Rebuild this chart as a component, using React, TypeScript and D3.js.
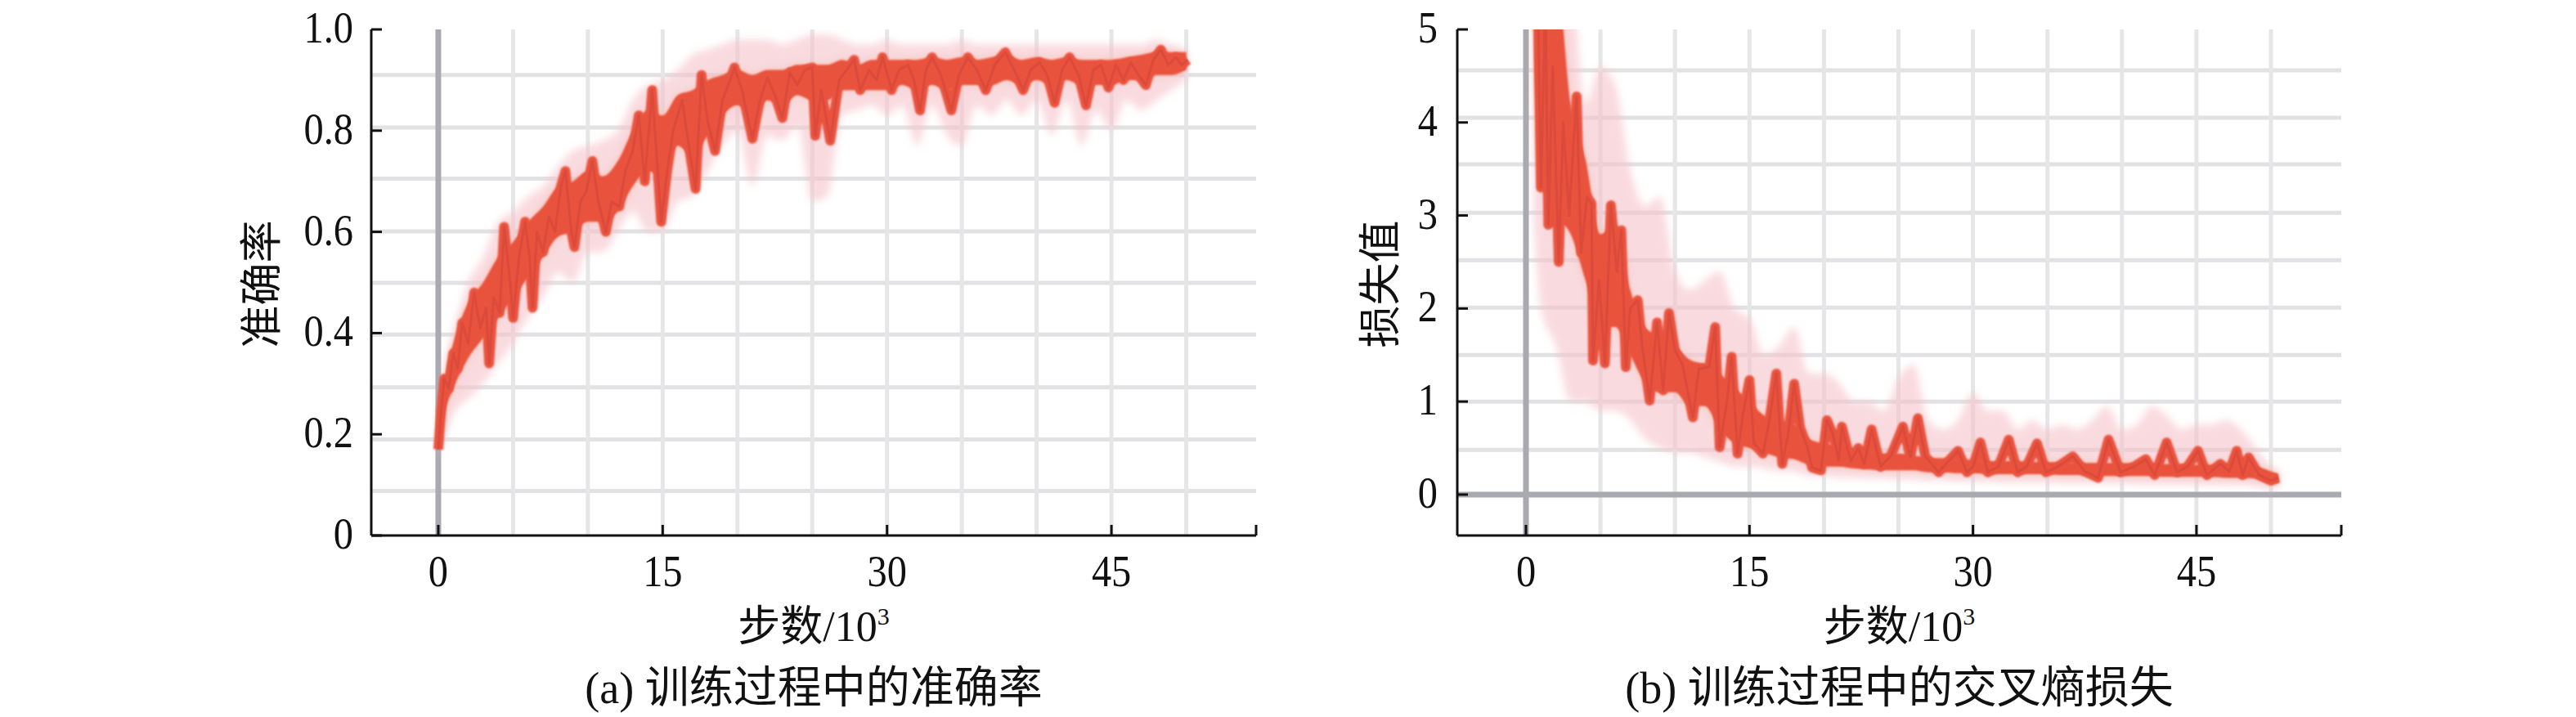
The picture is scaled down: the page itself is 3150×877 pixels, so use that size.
import React from "react";
import * as d3 from "d3";

// ---------- tick / grid data ----------
const stepTicks = [0, 15, 30, 45];
const stepTickLabels = ["0", "15", "30", "45"];
const stepGrid = [5, 10, 15, 20, 25, 30, 35, 40, 45, 50];

const accTicks = [0, 0.2, 0.4, 0.6, 0.8, 1.0];
const accTickLabels = ["0", "0.2", "0.4", "0.6", "0.8", "1.0"];
const accGrid = [0.088, 0.19, 0.293, 0.397, 0.499, 0.601, 0.705, 0.806, 0.91];

const lossTicks = [0, 1, 2, 3, 4, 5];
const lossTickLabels = ["0", "1", "2", "3", "4", "5"];
const lossGrid = [0.48, 1.0, 1.5, 2.01, 2.52, 3.03, 3.55, 4.05, 4.56];

// ---------- accuracy series (steps in 10^3) ----------
const accSteps = [
  0.0, 0.2, 0.4, 0.7, 1.0, 1.3, 1.6, 2.0, 2.4, 2.8, 3.2, 3.4, 3.7, 4.1, 4.4, 4.8, 5.0, 5.4, 5.8, 6.1,
  6.3, 6.6, 7.0, 7.4, 7.8, 8.2, 8.5, 8.9, 9.1, 9.5, 9.9, 10.3, 10.7, 11.2, 11.6, 12.1, 12.5, 13.0, 13.4, 13.8,
  14.3, 14.6, 14.9, 15.3, 15.7, 16.3, 16.8, 17.2, 17.6, 18.0, 18.5, 19.0, 19.5, 19.8, 20.3, 21.0, 21.5, 22.0, 22.5, 23.0,
  23.5, 24.0, 24.5, 25.0, 25.2, 25.6, 26.2, 26.8, 27.3, 27.8, 28.2, 28.8, 29.3, 29.7, 30.3, 30.8, 31.4, 31.8, 32.2, 32.6,
  33.0, 33.6, 34.3, 34.8, 35.4, 36.0, 36.6, 37.2, 37.9, 38.5, 39.1, 39.6, 40.2, 40.7, 41.2, 41.7, 42.2, 42.8, 43.3, 43.8,
  44.3, 44.8, 45.3, 45.8, 46.3, 46.8, 47.3, 47.8, 48.3, 48.8, 49.3, 49.7, 50.1,
];
const accValues = [
  0.17, 0.25, 0.31, 0.29, 0.36, 0.33, 0.42, 0.38, 0.48, 0.41, 0.45, 0.34, 0.47, 0.44, 0.61, 0.5, 0.43, 0.55, 0.62, 0.55,
  0.45, 0.6, 0.56, 0.63, 0.6, 0.69, 0.72, 0.6, 0.57, 0.66, 0.68, 0.74, 0.66, 0.6, 0.66, 0.65, 0.72, 0.76, 0.83, 0.7,
  0.88, 0.75, 0.62, 0.72, 0.8, 0.86, 0.76, 0.685, 0.91, 0.82, 0.76, 0.86, 0.9, 0.925, 0.88, 0.784, 0.86, 0.905, 0.87, 0.825,
  0.915, 0.89, 0.92, 0.925, 0.79, 0.88, 0.78, 0.9, 0.92, 0.94, 0.88, 0.92, 0.9, 0.945, 0.88, 0.92, 0.93, 0.9, 0.84, 0.92,
  0.945, 0.91, 0.84, 0.91, 0.945, 0.92, 0.88, 0.93, 0.955, 0.92, 0.88, 0.92, 0.935, 0.91, 0.855, 0.92, 0.945, 0.91, 0.85, 0.92,
  0.93, 0.885, 0.93, 0.9, 0.935, 0.91, 0.89, 0.94, 0.96, 0.93, 0.945, 0.93, 0.94,
];
// dense red band (core spread of the curve)
const accCoreSteps = [
  0, 0.5, 1, 2, 3, 4, 5, 6, 7, 8, 9, 10, 11, 12, 13, 14, 15, 16, 17, 18, 19, 20, 21, 22, 23, 24, 25,
  26, 27, 28, 29, 30, 31, 32, 33, 34, 35, 36, 37, 38, 39, 40, 41, 42, 43, 44, 45, 46, 47, 48, 49, 50,
];
const accCoreLow = [
  0.17, 0.25, 0.29, 0.35, 0.39, 0.43, 0.47, 0.51, 0.55, 0.59, 0.6, 0.62, 0.62, 0.64, 0.69, 0.72, 0.71, 0.77, 0.75, 0.79,
  0.83, 0.85, 0.83, 0.86, 0.85, 0.87, 0.86, 0.86, 0.88, 0.88, 0.88, 0.88, 0.89, 0.88, 0.89, 0.88, 0.89, 0.89, 0.89, 0.9,
  0.89, 0.9, 0.89, 0.9, 0.89, 0.89, 0.89, 0.9, 0.9, 0.91, 0.91, 0.92,
];
const accCoreHigh = [
  0.2, 0.32, 0.38, 0.46, 0.5, 0.55, 0.58, 0.62, 0.65, 0.69, 0.7, 0.72, 0.71, 0.74, 0.8, 0.84, 0.83, 0.87, 0.88, 0.9,
  0.91, 0.92, 0.91, 0.92, 0.92, 0.93, 0.93, 0.93, 0.94, 0.93, 0.94, 0.94, 0.94, 0.94, 0.945, 0.94, 0.945, 0.94, 0.945, 0.95,
  0.94, 0.945, 0.94, 0.945, 0.94, 0.94, 0.94, 0.945, 0.95, 0.955, 0.955, 0.955,
];
const accRawSteps = [
  0, 0.5, 1, 2, 3, 4, 5, 6, 7, 8, 9, 10, 11, 12, 13, 14, 15, 16, 17, 18, 19, 20, 21, 22, 23, 24, 25,
  26, 27, 28, 29, 30, 31, 32, 33, 34, 35, 36, 37, 38, 39, 40, 41, 42, 43, 44, 45, 46, 47, 48, 49, 50,
];
const accRawLow = [
  0.15, 0.2, 0.24, 0.27, 0.3, 0.34, 0.38, 0.43, 0.47, 0.52, 0.5, 0.56, 0.56, 0.6, 0.64, 0.6, 0.6, 0.66, 0.67, 0.72,
  0.77, 0.8, 0.69, 0.79, 0.78, 0.81, 0.66, 0.67, 0.83, 0.84, 0.85, 0.83, 0.85, 0.77, 0.85, 0.79, 0.77, 0.85, 0.83, 0.86,
  0.83, 0.86, 0.79, 0.86, 0.77, 0.84, 0.8, 0.86, 0.84, 0.86, 0.88, 0.9,
];
const accRawHigh = [
  0.2, 0.34, 0.4, 0.5, 0.55, 0.62, 0.64, 0.67, 0.69, 0.73, 0.76, 0.77, 0.78, 0.8, 0.86, 0.89, 0.9, 0.92, 0.95, 0.96,
  0.97, 0.98, 0.98, 0.98, 0.97, 0.98, 0.99, 0.99, 0.98, 0.97, 0.97, 0.98, 0.97, 0.97, 0.97, 0.97, 0.98, 0.97, 0.97, 0.97,
  0.97, 0.97, 0.97, 0.97, 0.97, 0.97, 0.97, 0.97, 0.97, 0.98, 0.97, 0.96,
];

// ---------- loss series ----------
const lossSteps = [
  0.6, 0.8, 1.0, 1.3, 1.5, 1.8, 2.2, 2.5, 2.9, 3.2, 3.4, 3.7, 4.1, 4.4, 4.5, 4.9, 5.3, 5.7, 6.1, 6.4,
  6.7, 7.0, 7.5, 7.8, 8.3, 8.8, 9.2, 9.6, 10.0, 10.5, 11.2, 11.6, 12.3, 12.7, 13.0, 13.5, 13.8, 14.2, 14.6, 15.0,
  15.3, 15.9, 16.3, 16.8, 17.2, 17.6, 18.0, 18.4, 18.9, 19.2, 19.8, 20.2, 20.6, 21.0, 21.2, 21.8, 22.3, 22.7, 23.2, 23.8,
  24.5, 25.3, 25.8, 26.3, 26.8, 27.7, 28.3, 29.0, 29.6, 30.0, 30.5, 31.0, 31.7, 32.4, 33.0, 33.6, 34.3, 34.9, 35.7, 36.7,
  37.5, 38.4, 39.1, 39.9, 40.8, 41.6, 42.2, 43.0, 43.7, 44.4, 45.1, 45.7, 46.6, 47.2, 47.7, 48.1, 48.5, 49.2, 50.0, 50.5,
];
const lossValues = [
  5.6, 5.3, 3.3, 5.3, 2.9, 4.6, 2.5, 4.0, 3.0, 3.8, 4.28, 2.6, 3.2, 3.13, 1.44, 2.3, 1.41, 3.11, 2.4, 2.84,
  1.37, 2.0, 2.09, 1.6, 1.01, 1.85, 1.12, 1.95, 1.55, 1.4, 0.83, 1.35, 1.37, 1.8, 0.51, 1.01, 1.48, 0.44, 0.9, 1.23,
  0.55, 0.44, 0.76, 1.3, 0.33, 0.65, 1.19, 0.72, 0.5, 0.29, 0.26, 0.8, 0.65, 0.37, 0.73, 0.36, 0.5, 0.33, 0.7, 0.3,
  0.42, 0.73, 0.4, 0.82, 0.41, 0.24, 0.35, 0.47, 0.24, 0.3, 0.56, 0.24, 0.3, 0.59, 0.24, 0.3, 0.55, 0.24, 0.3, 0.41,
  0.25, 0.18, 0.59, 0.24, 0.3, 0.38, 0.21, 0.56, 0.24, 0.3, 0.47, 0.21, 0.33, 0.25, 0.47, 0.21, 0.4, 0.21, 0.15, 0.18,
];
const lossCoreSteps = [
  0.6, 1, 2, 3, 4, 5, 6, 7, 8, 9, 10, 11, 12, 13, 14, 15, 16, 17, 18, 19, 20, 21, 22, 23, 24, 25,
  26, 27, 28, 29, 30, 31, 32, 33, 34, 35, 36, 37, 38, 39, 40, 41, 42, 43, 44, 45, 46, 47, 48, 49, 50, 50.5,
];
const lossCoreLow = [
  4.6, 3.4, 3.0, 2.8, 2.3, 1.8, 1.8, 1.5, 1.2, 1.1, 1.1, 0.95, 0.95, 0.7, 0.55, 0.5, 0.45, 0.4, 0.38, 0.32,
  0.3, 0.3, 0.28, 0.27, 0.26, 0.26, 0.26, 0.24, 0.24, 0.23, 0.23, 0.22, 0.22, 0.22, 0.22, 0.22, 0.21, 0.21, 0.2, 0.2,
  0.2, 0.2, 0.2, 0.19, 0.19, 0.19, 0.19, 0.18, 0.18, 0.17, 0.12, 0.13,
];
const lossCoreHigh = [
  5.6, 5.6, 5.6, 4.2, 3.6, 2.8, 2.9, 2.2, 1.8, 1.7, 1.6, 1.45, 1.4, 1.3, 1.15, 1.0, 0.85, 0.8, 0.75, 0.6,
  0.55, 0.52, 0.48, 0.46, 0.44, 0.44, 0.42, 0.4, 0.39, 0.38, 0.37, 0.36, 0.36, 0.36, 0.35, 0.35, 0.34, 0.34, 0.34, 0.34,
  0.34, 0.33, 0.33, 0.33, 0.33, 0.32, 0.32, 0.32, 0.31, 0.3, 0.25, 0.22,
];
const lossRawSteps = [
  0.5, 1, 2, 3, 4, 5, 6, 7, 8, 9, 10, 11, 12, 13, 14, 15, 16, 17, 18, 19, 20, 21, 22, 23, 24, 25,
  26, 27, 28, 29, 30, 31, 32, 33, 34, 35, 36, 37, 38, 39, 40, 41, 42, 43, 44, 45, 46, 47, 48, 49, 50, 50.6,
];
const lossRawLow = [
  3.0, 2.0, 1.6, 1.0, 1.0, 0.9, 0.9, 0.8, 0.6, 0.5, 0.45, 0.45, 0.4, 0.35, 0.3, 0.3, 0.28, 0.25, 0.25, 0.2,
  0.2, 0.18, 0.18, 0.17, 0.17, 0.16, 0.16, 0.15, 0.15, 0.14, 0.14, 0.14, 0.13, 0.13, 0.13, 0.13, 0.12, 0.12, 0.12, 0.12,
  0.12, 0.11, 0.11, 0.11, 0.11, 0.1, 0.1, 0.1, 0.1, 0.08, 0.06, 0.08,
];
const lossRawHigh = [
  5.5, 5.5, 5.5, 5.5, 4.2, 4.6, 4.4, 3.5, 3.1, 3.2, 2.4, 2.2, 2.3, 2.4, 2.0, 1.9, 1.5, 1.6, 1.8, 1.3,
  1.3, 1.2, 1.0, 1.0, 0.9, 1.25, 1.4, 0.8, 0.7, 0.8, 1.1, 0.9, 0.9, 0.7, 0.8, 0.7, 0.75, 0.7, 0.8, 0.95,
  0.7, 0.75, 0.95, 0.85, 0.7, 0.75, 0.75, 0.8, 0.7, 0.5, 0.3, 0.25,
];

const serif = "'Liberation Serif', 'Times New Roman', 'Noto Sans CJK SC', serif";
const RED = "#e9523d";

type Band = { s: number; lo: number; hi: number };

type PanelProps = {
  id: string;
  left: number; right: number; top: number; bottom: number;
  xDomain: [number, number]; yDomain: [number, number];
  yTicks: number[]; yTickLabels: string[]; hGrid: number[]; zeroH: boolean;
  steps: number[]; values: number[];
  coreSteps: number[]; coreLow: number[]; coreHigh: number[];
  rawSteps: number[]; rawLow: number[]; rawHigh: number[];
  yLabel: string; yLabelX: number; yTickX: number; caption: string;
};

function Panel(p: PanelProps) {
  const x = d3.scaleLinear().domain(p.xDomain).range([p.left, p.right]);
  const y = d3.scaleLinear().domain(p.yDomain).range([p.bottom, p.top]);
  const pts = p.steps.map((s, i) => [s, p.values[i]] as [number, number]);
  const raw: Band[] = p.rawSteps.map((s, i) => ({ s, lo: p.rawLow[i], hi: p.rawHigh[i] }));
  const core: Band[] = p.coreSteps.map((s, i) => ({ s, lo: p.coreLow[i], hi: p.coreHigh[i] }));
  const line = d3.line<[number, number]>().x((d) => x(d[0])).y((d) => y(d[1]));
  const area = d3
    .area<Band>()
    .x((d) => x(d.s))
    .y0((d) => y(d.lo))
    .y1((d) => y(d.hi))
    .curve(d3.curveMonotoneX);
  const cx = (p.left + p.right) / 2;
  const tickLen = 13;
  return (
    <g>
      <defs>
        <clipPath id={`clip-${p.id}`}>
          <rect x={p.left} y={p.top} width={p.right - p.left} height={p.bottom - p.top} />
        </clipPath>
      </defs>
      {/* grid */}
      {p.hGrid.map((g) => (
        <line key={`h${g}`} x1={p.left} x2={p.right} y1={y(g)} y2={y(g)} stroke="#e2e2e4" strokeWidth={5} />
      ))}
      {stepGrid.map((g) => (
        <line key={`v${g}`} x1={x(g)} x2={x(g)} y1={p.top} y2={p.bottom} stroke="#e6e6e8" strokeWidth={5} />
      ))}
      <line x1={x(0)} x2={x(0)} y1={p.top} y2={p.bottom} stroke="#a9a9b0" strokeWidth={7} />
      {p.zeroH && (
        <line x1={p.left} x2={p.right} y1={y(0)} y2={y(0)} stroke="#a9a9b0" strokeWidth={7} />
      )}
      {/* curves */}
      <g clipPath={`url(#clip-${p.id})`}>
        <path d={area(raw) || ""} fill="#f5c2ca" opacity={0.6} filter="url(#blurBig)" />
        <path d={area(core) || ""} fill="#f6b49a" opacity={0.6} filter="url(#blurBig)" />
        <path d={area(core) || ""} fill={RED} filter="url(#blurSmall)" />
        <path
          d={line(pts) || ""}
          fill="none"
          stroke={RED}
          strokeWidth={12}
          strokeLinejoin="round"
          filter="url(#blurSmall)"
        />
        <path
          d={line(pts) || ""}
          fill="none"
          stroke="#c23a38"
          strokeWidth={3}
          strokeOpacity={0.35}
          strokeLinejoin="round"
        />
      </g>
      {/* axes */}
      <line x1={p.left} x2={p.left} y1={p.top} y2={p.bottom} stroke="#111" strokeWidth={3} />
      <line x1={p.left} x2={p.right} y1={p.bottom} y2={p.bottom} stroke="#111" strokeWidth={3} />
      <line x1={p.right} x2={p.right} y1={p.bottom} y2={p.bottom - tickLen} stroke="#111" strokeWidth={3} />
      {p.yTicks.map((t, i) => (
        <g key={`yt${t}`}>
          <line x1={p.left} x2={p.left + tickLen} y1={y(t)} y2={y(t)} stroke="#111" strokeWidth={3} />
          <text
            transform={`translate(${p.yTickX},${y(t) + 16}) scale(0.88,1)`}
            textAnchor="end"
            fontFamily={serif}
            fontSize={55}
            fill="#111"
          >
            {p.yTickLabels[i]}
          </text>
        </g>
      ))}
      {stepTicks.map((t, i) => (
        <g key={`xt${t}`}>
          <line x1={x(t)} x2={x(t)} y1={p.bottom} y2={p.bottom - tickLen} stroke="#111" strokeWidth={3} />
          <text
            transform={`translate(${x(t)},717) scale(0.88,1)`}
            textAnchor="middle"
            fontFamily={serif}
            fontSize={55}
            fill="#111"
          >
            {stepTickLabels[i]}
          </text>
        </g>
      ))}
      <text x={cx} y={784} textAnchor="middle" fontFamily={serif} fontSize={52} fill="#111">
        步数/10<tspan fontSize={30} dy={-20}>3</tspan>
      </text>
      <text x={cx} y={860} textAnchor="middle" fontFamily={serif} fontSize={54} fill="#111">
        {p.caption}
      </text>
      <text
        transform={`translate(${p.yLabelX},${(p.top + p.bottom) / 2 + 2}) rotate(-90)`}
        textAnchor="middle"
        fontFamily={serif}
        fontSize={52}
        fill="#111"
      >
        {p.yLabel}
      </text>
    </g>
  );
}

export default function App() {
  return (
    <svg
      width={3150}
      height={877}
      viewBox="0 0 3150 877"
      style={{ position: "absolute", left: 0, top: 0, background: "#fff" }}
    >
      <defs>
        <filter id="blurBig" x="-5%" y="-5%" width="110%" height="110%">
          <feGaussianBlur stdDeviation={5} />
        </filter>
        <filter id="blurSmall" x="-5%" y="-5%" width="110%" height="110%">
          <feGaussianBlur stdDeviation={1.2} />
        </filter>
      </defs>
      <rect width={3150} height={877} fill="#fff" />
      <Panel
        id="acc"
        left={454} right={1536} top={36} bottom={655}
        xDomain={[-4.48, 54.67]} yDomain={[0, 1]}
        yTicks={accTicks} yTickLabels={accTickLabels} hGrid={accGrid} zeroH={false}
        steps={accSteps} values={accValues}
        coreSteps={accCoreSteps} coreLow={accCoreLow} coreHigh={accCoreHigh}
        rawSteps={accRawSteps} rawLow={accRawLow} rawHigh={accRawHigh}
        yLabel="准确率" yLabelX={338} yTickX={432}
        caption="(a) 训练过程中的准确率"
      />
      <Panel
        id="loss"
        left={1782} right={2863} top={36} bottom={655}
        xDomain={[-4.61, 54.72]} yDomain={[-0.44, 5]}
        yTicks={lossTicks} yTickLabels={lossTickLabels} hGrid={lossGrid} zeroH={true}
        steps={lossSteps} values={lossValues}
        coreSteps={lossCoreSteps} coreLow={lossCoreLow} coreHigh={lossCoreHigh}
        rawSteps={lossRawSteps} rawLow={lossRawLow} rawHigh={lossRawHigh}
        yLabel="损失值" yLabelX={1706} yTickX={1758}
        caption="(b) 训练过程中的交叉熵损失"
      />
    </svg>
  );
}
